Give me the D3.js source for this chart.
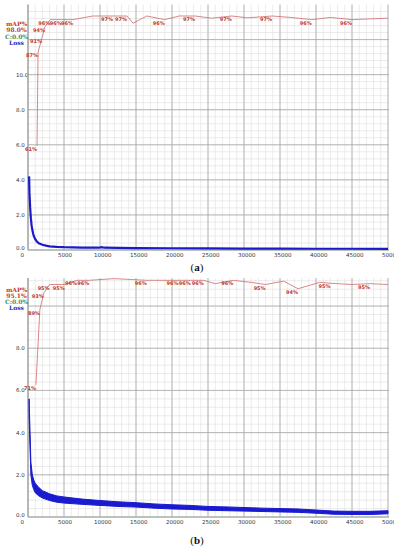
<!DOCTYPE html>
<html lang="en">
<head>
<meta charset="utf-8">
<title>Training loss and mAP</title>
<script src="https://d3js.org/d3.v7.min.js"></script>
<style>
  body { margin: 0; background: #fff; }
  svg { display: block; }
  .tick-lbl { font: 5.5px "DejaVu Sans", sans-serif; fill: #333; }
  .map-lbl { font: bold 5px "DejaVu Sans", sans-serif; fill: #c0392b; }
  .legend { font: bold 6px "DejaVu Serif", serif; }
  .caption { font: 11px "Liberation Serif", serif; fill: #111; }
</style>
</head>
<body>
<script>
// ---- data ----
var xTicks = [0, 5000, 10000, 15000, 20000, 25000, 30000, 35000, 40000, 45000, 50000];
var yTicksA = [0, 2, 4, 6, 8, 10];
var yTicksB = [0, 2, 4, 6, 8];

// panel (a)
var lossAIter = [150, 200, 300, 400, 500, 600, 700, 800, 1000, 1200, 1500, 2000, 2500, 3000, 4000, 5000, 7500, 9800, 10200, 10600, 12500, 15000, 20000, 25000, 30000, 35000, 40000, 45000, 50000];
var lossAVal  = [4.2, 3.3, 2.4, 1.8, 1.4, 1.15, 0.95, 0.8, 0.62, 0.5, 0.38, 0.3, 0.25, 0.21, 0.18, 0.16, 0.14, 0.13, 0.16, 0.13, 0.12, 0.11, 0.1, 0.09, 0.08, 0.08, 0.07, 0.07, 0.06];
var mapAIter = [1250, 1400, 1950, 2350, 3100, 4700, 6250, 9000, 11800, 13750, 14600, 16500, 19000, 21000, 23200, 25500, 28300, 30500, 33900, 36500, 39400, 42000, 45000, 50000];
var mapAVal  = [61, 87, 91, 94, 96, 96, 96, 97, 97, 97, 95, 97, 96, 97, 97, 96.4, 97, 96.5, 97, 96.6, 96, 96.6, 96, 96.4];
var mapALbl  = [1, 1, 1, 1, 1, 1, 1, 0, 1, 1, 0, 0, 1, 0, 1, 0, 1, 0, 1, 0, 1, 0, 1, 0];
var legendA = ["mAP%", "98.0%", "C:0.0%", "Loss"];

// panel (b)
var lossBIter = [150, 250, 400, 600, 800, 1000, 1500, 2000, 3000, 4000, 5000, 7500, 10000, 12500, 15000, 17500, 20000, 22500, 25000, 27500, 30000, 32500, 35000, 37500, 40000, 42500, 45000, 47500, 50000];
var lossBHi   = [5.6, 4.4, 2.6, 2.0, 1.75, 1.6, 1.4, 1.25, 1.1, 1.0, 0.95, 0.85, 0.78, 0.72, 0.68, 0.62, 0.58, 0.55, 0.5, 0.48, 0.45, 0.42, 0.4, 0.38, 0.33, 0.28, 0.27, 0.27, 0.3];
var lossBLo   = [4.8, 3.6, 2.0, 1.5, 1.3, 1.15, 1.0, 0.9, 0.78, 0.7, 0.66, 0.6, 0.55, 0.5, 0.47, 0.42, 0.38, 0.36, 0.32, 0.3, 0.28, 0.26, 0.24, 0.22, 0.18, 0.13, 0.12, 0.12, 0.15];
var mapBIter = [1100, 1650, 2200, 3000, 5100, 6800, 8500, 12000, 16500, 18600, 20900, 22600, 24400, 26000, 28500, 31000, 33000, 35500, 37500, 40500, 42000, 45000, 47500, 50000];
var mapBVal  = [71, 89, 93, 95, 95, 96, 96, 96.4, 96, 96, 96, 96, 96, 95.2, 96, 95.5, 95, 95.8, 94, 95.5, 95.3, 95, 95.2, 95];
var mapBLbl  = [1, 1, 1, 1, 1, 1, 1, 0, 1, 0, 1, 1, 1, 0, 1, 0, 1, 0, 1, 0, 1, 0, 1, 0];
var legendB = ["mAP%", "95.1%", "C:0.0%", "Loss"];

// ---- layout ----
var W = 394, H = 550;
var svg = d3.select("body").append("svg").attr("width", W).attr("height", H);

var x = d3.scaleLinear().domain([0, 50000]).range([28, 388]);

var panels = [
  { top: 4.5, bottom: 250, lossMax: 14, mapRef: [[61, 146], [97, 16]], yTicks: yTicksA,
    lossIter: lossAIter, lossVal: lossAVal, mapIter: mapAIter, mapVal: mapAVal, mapLbl: mapALbl,
    legend: legendA, legendY: 24, caption: "a", capY: 271 },
  { top: 278, bottom: 517, lossMax: 11.33, mapRef: [[71, 385], [95, 284.5]], yTicks: yTicksB,
    lossIter: lossBIter, lossHi: lossBHi, lossLo: lossBLo, mapIter: mapBIter, mapVal: mapBVal, mapLbl: mapBLbl,
    legend: legendB, legendY: 289.5, caption: "b", capY: 544 }
];

panels.forEach(function(p) {
  var y = d3.scaleLinear().domain([0, p.lossMax]).range([p.bottom, p.top]);
  var ym = d3.scaleLinear().domain([p.mapRef[0][0], p.mapRef[1][0]]).range([p.mapRef[0][1], p.mapRef[1][1]]);
  var g = svg.append("g");

  // y labels sit under the plot area (the wide ones get cut by it)
  g.selectAll("text.ylab").data(p.yTicks).enter().append("text")
    .attr("class", "tick-lbl ylab")
    .attr("x", 16).attr("y", d => y(d) + (d === 0 ? 0 : 2))
    .text(d => d.toFixed(1));

  // plot background
  g.append("rect").attr("x", 28).attr("y", p.top)
    .attr("width", 361).attr("height", p.bottom - p.top).attr("fill", "#fff");

  // minor grid
  var minorX = d3.range(0, 50001, 1000);
  var minorY = d3.range(0, p.lossMax, 0.4);
  g.append("g").selectAll("line").data(minorX).enter().append("line")
    .attr("x1", d => x(d)).attr("x2", d => x(d)).attr("y1", p.top).attr("y2", p.bottom)
    .attr("stroke", "#dedede").attr("stroke-width", 0.6);
  g.append("g").selectAll("line").data(minorY).enter().append("line")
    .attr("x1", 28).attr("x2", 389).attr("y1", d => y(d)).attr("y2", d => y(d))
    .attr("stroke", "#dedede").attr("stroke-width", 0.6);

  // major grid
  g.append("g").selectAll("line").data(xTicks).enter().append("line")
    .attr("x1", d => x(d)).attr("x2", d => x(d)).attr("y1", p.top).attr("y2", p.bottom)
    .attr("stroke", "#a8a8a8").attr("stroke-width", 0.8);
  g.append("g").selectAll("line").data(d3.range(0, p.lossMax, 2)).enter().append("line")
    .attr("x1", 28).attr("x2", 389).attr("y1", d => y(d)).attr("y2", d => y(d))
    .attr("stroke", "#a8a8a8").attr("stroke-width", 0.8);

  // left edge, bottom axis
  g.append("line").attr("x1", 28).attr("x2", 28).attr("y1", p.top).attr("y2", p.bottom)
    .attr("stroke", "#888").attr("stroke-width", 0.8);
  g.append("line").attr("x1", 28).attr("x2", 389).attr("y1", p.bottom).attr("y2", p.bottom)
    .attr("stroke", "#9fae9f").attr("stroke-width", 1);

  // x labels
  g.selectAll("text.xlab").data(xTicks).enter().append("text")
    .attr("class", "tick-lbl xlab")
    .attr("x", d => d === 0 ? 20.5 : x(d) - 6)
    .attr("y", p.bottom + 7)
    .text(d => d);

  // loss
  if (p.lossVal) {
    g.append("path")
      .datum(p.lossIter.map((it, i) => [it, p.lossVal[i]]))
      .attr("fill", "none").attr("stroke", "#1a1ac8").attr("stroke-width", 2.2)
      .attr("d", d3.line().x(d => x(d[0])).y(d => y(d[1])));
  } else {
    g.append("path")
      .datum(p.lossIter.map((it, i) => [it, p.lossLo[i], p.lossHi[i]]))
      .attr("fill", "#1a1ad0").attr("stroke", "#1a1ad0").attr("stroke-width", 1)
      .attr("d", d3.area().x(d => x(d[0])).y0(d => y(d[1])).y1(d => y(d[2])));
  }

  // mAP
  var mapPts = p.mapIter.map((it, i) => [it, p.mapVal[i], p.mapLbl[i]]);
  g.append("path").datum(mapPts)
    .attr("fill", "none").attr("stroke", "#d06a6a").attr("stroke-width", 0.8)
    .attr("d", d3.line().x(d => x(d[0])).y(d => ym(d[1])));
  g.selectAll("text.mlab").data(mapPts.filter(d => d[2])).enter().append("text")
    .attr("class", "map-lbl mlab")
    .attr("x", d => x(d[0])).attr("y", d => ym(d[1]) + 5)
    .attr("text-anchor", "end")
    .text(d => Math.round(d[1]) + "%");

  // legend
  var legCol = ["#c0392b", "#c0392b", "#2e9470", "#2a2ab8"];
  g.selectAll("text.leg").data(p.legend).enter().append("text")
    .attr("class", "legend leg")
    .attr("x", 16.5).attr("y", (d, i) => p.legendY + 2 + i * 6.3)
    .attr("text-anchor", "middle")
    .attr("fill", (d, i) => legCol[i])
    .text(d => d);

  // caption
  var cap = svg.append("text").attr("class", "caption")
    .attr("x", 197).attr("y", p.capY).attr("text-anchor", "middle");
  cap.append("tspan").text("(");
  cap.append("tspan").attr("font-weight", "bold").text(p.caption);
  cap.append("tspan").text(")");
});
</script>
</body>
</html>
